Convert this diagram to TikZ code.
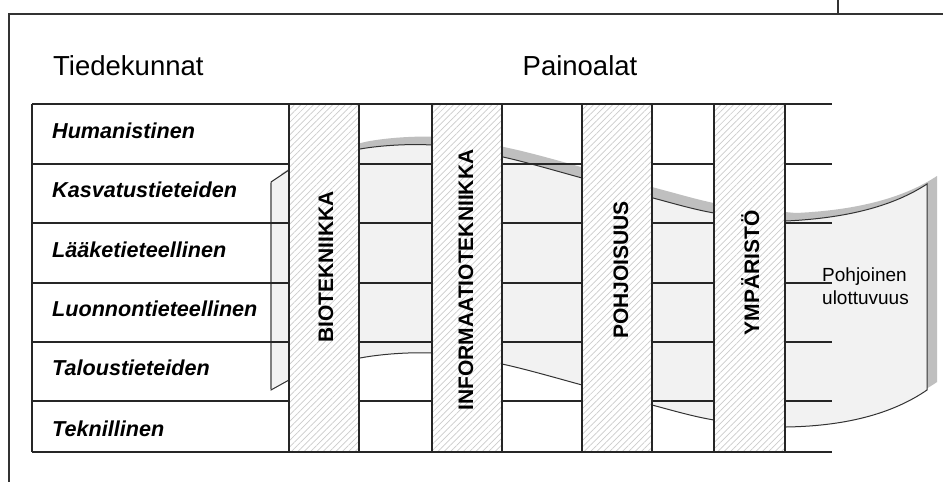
\documentclass[tikz,border=0pt]{standalone}
\usepackage{fontspec}
\setmainfont{Liberation Sans}
\usetikzlibrary{patterns.meta}
\begin{document}
\begin{tikzpicture}[x=1pt,y=-1pt,
  frameline/.style={line width=1.1pt,black!80},
  gridline/.style={line width=1.4pt,black!85},
  colbox/.style={draw=black!85,line width=1.4pt,preaction={fill=white},
    pattern={Lines[angle=45,distance=4.5pt,line width=0.7pt]},pattern color=black!20},
  collab/.style={rotate=90,anchor=base,inner sep=0pt,font=\fontsize{21}{24}\selectfont\bfseries},
  rowlab/.style={anchor=base west,inner sep=0pt,font=\fontsize{21.6}{24}\selectfont\bfseries\itshape},
  headlab/.style={inner sep=0pt,font=\fontsize{27.5}{32}\selectfont},
  sideline/.style={line width=1pt,black!80}
]
\useasboundingbox (0,0) rectangle (943,482);
\fill[white] (0,0) rectangle (943,482);

% outer frame
\draw[frameline] (9,482) -- (9,14) -- (943,14);
\draw[frameline] (838,0) -- (838,14);

% sheet
\def\sheetpath{(271,182) -- (289,170) -- plot[smooth,tension=0.55] coordinates {(289,170) (360,149) (432,145) (503,157) (582,178) (653,198) (714,213) (786,221)} .. controls (850,218) and (895,205) .. (927,184) -- (927,390) .. controls (895,412) and (850,426) .. (786,427) -- plot[smooth,tension=0.55] coordinates {(786,427) (714,420) (652,405) (582,385) (502,364) (432,353) (360,358) (289,380)} -- (271,390) -- cycle}
\fill[black!25,shift={(10,-8)}] \sheetpath;
\fill[black!5] \sheetpath;
\draw[sideline] \sheetpath;
\draw[line width=1.4pt,black!50] (271,183) -- (271,389);

% grid
\foreach \yy in {104,164,223,283,342,401,452}
  \draw[gridline] (32,\yy) -- (832,\yy);
\draw[gridline] (32,104) -- (32,452);

% columns
\draw[colbox] (289,104) rectangle (359,452);
\draw[colbox] (432,104) rectangle (502,452);
\draw[colbox] (582,104) rectangle (652,452);
\draw[colbox] (714,104) rectangle (785,452);

\node[collab] (bio) at (333,267) {BIOTEKNIIKKA};
\node[collab] (info) at (473,280) {INFORMAATIOTEKNIIKKA};
\node[collab] (pohj) at (628,270) {POHJOISUUS};
\node[collab] (ymp) at (759,273) {YMPÄRISTÖ};

% headers
\node[headlab,anchor=base west] (tiede) at (53,75) {Tiedekunnat};
\node[headlab,anchor=base] (paino) at (580,75) {Painoalat};

% row labels
\node[rowlab] (r1) at (52,138) {Humanistinen};
\node[rowlab] (r2) at (52,197) {Kasvatustieteiden};
\node[rowlab] (r3) at (52,257) {Lääketieteellinen};
\node[rowlab] (r4) at (52,316) {Luonnontieteellinen};
\node[rowlab] (r5) at (52,375) {Taloustieteiden};
\node[rowlab] (r6) at (52,436) {Teknillinen};

% side label
\node[inner sep=0pt,anchor=base west,align=left,font=\fontsize{19}{23}\selectfont] (pohjoinen) at (822,304) {Pohjoinen\\ulottuvuus};
\end{tikzpicture}
\end{document}
